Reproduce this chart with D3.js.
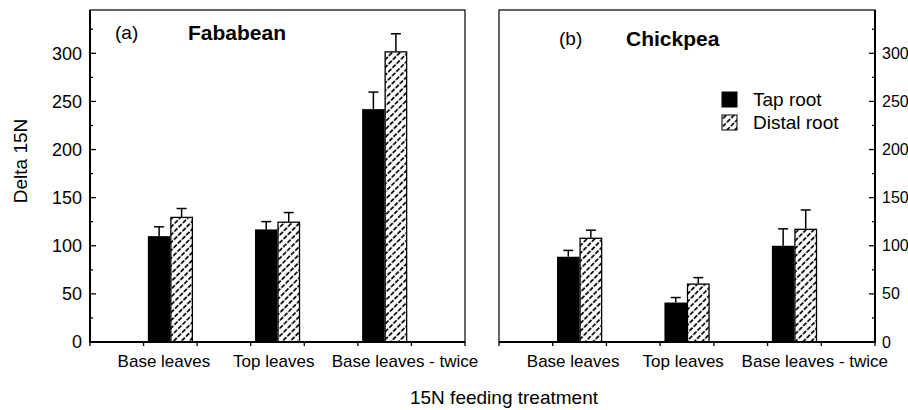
<!DOCTYPE html>
<html><head><meta charset="utf-8">
<script src="https://cdn.jsdelivr.net/npm/d3@7"></script>
<style>body{margin:0;background:#fff}svg{display:block;font-family:"Liberation Sans",Arial,sans-serif}</style>
</head><body>
<svg id="chart" width="908" height="410"></svg>
<script>
const categories = ["Base leaves", "Top leaves", "Base leaves - twice"];
const seriesNames = ["Tap root", "Distal root"];
const fababeanTap = [110, 117, 242];
const fababeanTapSE = [9.7, 8.1, 17.7];
const fababeanDistal = [130, 125, 302];
const fababeanDistalSE = [8.7, 9.5, 18.3];
const chickpeaTap = [88.6, 41, 100];
const chickpeaTapSE = [6.6, 5.2, 17.6];
const chickpeaDistal = [108.3, 60.7, 117.6];
const chickpeaDistalSE = [7.9, 6.2, 19.6];
const yMajorTicks = [0, 50, 100, 150, 200, 250, 300];
const yMinorTicks = [25, 75, 125, 175, 225, 275, 325];

const svg = d3.select("#chart");
const defs = svg.append("defs");
const pat = defs.append("pattern").attr("id", "hatch").attr("patternUnits", "userSpaceOnUse")
  .attr("width", 5.5).attr("height", 6).attr("patternTransform", "rotate(45)");
pat.append("rect").attr("width", 5.5).attr("height", 6).attr("fill", "#fff");
pat.append("line").attr("x1", 1).attr("x2", 1).attr("y1", 0).attr("y2", 6)
  .attr("stroke", "#000").attr("stroke-width", 1.7).attr("stroke-dasharray", "4.6 1.4");

const plotTop = 10, plotBottom = 342;
const y = d3.scaleLinear().domain([0, 345]).range([plotBottom, plotTop]);
const catPos = [1.5, 3.5, 5.5];
const labelPos = [1.38, 3.43, 5.88];
const barW = 0.42;

const panels = [
  {x0: 90, x1: 465, tap: fababeanTap, tapSE: fababeanTapSE, dis: fababeanDistal, disSE: fababeanDistalSE,
   tag: "(a)", tagX: 115, tagY: 39, name: "Fababean", nameX: 188, nameY: 40, axisSide: "left"},
  {x0: 499, x1: 875, tap: chickpeaTap, tapSE: chickpeaTapSE, dis: chickpeaDistal, disSE: chickpeaDistalSE,
   tag: "(b)", tagX: 559, tagY: 45, name: "Chickpea", nameX: 626, nameY: 46, axisSide: "right"}
];

panels.forEach(p => {
  const x = d3.scaleLinear().domain([0, 7]).range([p.x0, p.x1]);
  const g = svg.append("g");
  g.append("rect").attr("x", p.x0).attr("y", plotTop).attr("width", p.x1 - p.x0).attr("height", plotBottom - plotTop)
    .attr("fill", "none").attr("stroke", "#000").attr("stroke-width", 1.2);
  const rows = categories.map((c, i) => ({c, i, tap: p.tap[i], tapSE: p.tapSE[i], dis: p.dis[i], disSE: p.disSE[i]}));
  const eb = [];
  rows.forEach(r => {
    eb.push({xc: catPos[r.i] - barW / 2, v: r.tap, se: r.tapSE});
    eb.push({xc: catPos[r.i] + barW / 2, v: r.dis, se: r.disSE});
  });
  g.selectAll(".ev").data(eb).join("line").attr("x1", d => x(d.xc)).attr("x2", d => x(d.xc))
    .attr("y1", d => y(d.v)).attr("y2", d => y(d.v + d.se)).attr("stroke", "#000").attr("stroke-width", 1.5);
  g.selectAll(".ec").data(eb).join("line").attr("x1", d => x(d.xc) - 5).attr("x2", d => x(d.xc) + 5)
    .attr("y1", d => y(d.v + d.se)).attr("y2", d => y(d.v + d.se)).attr("stroke", "#000").attr("stroke-width", 1.5);
  g.selectAll(".bt").data(rows).join("rect")
    .attr("x", d => x(catPos[d.i] - barW)).attr("width", d => x(barW) - x(0))
    .attr("y", d => y(d.tap)).attr("height", d => y(0) - y(d.tap)).attr("fill", "#000");
  g.selectAll(".bd").data(rows).join("rect")
    .attr("x", d => x(catPos[d.i]) + 0.5).attr("width", d => x(barW) - x(0) - 1)
    .attr("y", d => y(d.dis) + 0.5).attr("height", d => y(0) - y(d.dis) - 0.5)
    .attr("fill", "url(#hatch)").attr("stroke", "#000").attr("stroke-width", 1.3);
  g.append("line").attr("x1", p.x0).attr("x2", p.x1).attr("y1", plotBottom).attr("y2", plotBottom)
    .attr("stroke", "#000").attr("stroke-width", 2);
  g.selectAll(".xt").data(d3.range(0, 8)).join("line").attr("x1", d => x(d)).attr("x2", d => x(d))
    .attr("y1", plotBottom).attr("y2", plotBottom + 4).attr("stroke", "#000").attr("stroke-width", 1.3);
  g.selectAll(".xl").data(categories).join("text").attr("x", (d, i) => x(labelPos[i])).attr("y", 367)
    .attr("text-anchor", "middle").attr("font-size", 17).text(d => d);
  const ax = p.axisSide === "left" ? p.x0 : p.x1;
  const dir = p.axisSide === "left" ? 1 : -1;
  g.append("line").attr("x1", ax).attr("x2", ax).attr("y1", plotTop).attr("y2", plotBottom + 1)
    .attr("stroke", "#000").attr("stroke-width", 2);
  g.selectAll(".ymaj").data(yMajorTicks).join("line").attr("x1", ax).attr("x2", ax + dir * 6)
    .attr("y1", d => y(d)).attr("y2", d => y(d)).attr("stroke", "#000").attr("stroke-width", 1.3);
  g.selectAll(".ymin").data(yMinorTicks).join("line").attr("x1", ax).attr("x2", ax + dir * 3)
    .attr("y1", d => y(d)).attr("y2", d => y(d)).attr("stroke", "#000").attr("stroke-width", 1.3);
  g.selectAll(".yl").data(yMajorTicks).join("text")
    .attr("x", p.axisSide === "left" ? ax - 8 : ax + 7).attr("y", d => y(d)).attr("dy", "0.35em")
    .attr("text-anchor", p.axisSide === "left" ? "end" : "start").attr("font-size", p.axisSide === "left" ? 18 : 16)
    .text(d => d);
  g.append("text").attr("x", p.tagX).attr("y", p.tagY).attr("font-size", 19).text(p.tag);
  g.append("text").attr("x", p.nameX).attr("y", p.nameY).attr("font-size", 21).attr("font-weight", "bold").text(p.name);
});

const legend = svg.append("g");
const legendFills = ["#000", "url(#hatch)"];
seriesNames.forEach((s, i) => {
  legend.append("rect").attr("x", 722).attr("y", 92 + i * 23).attr("width", 15).attr("height", 15)
    .attr("fill", legendFills[i]).attr("stroke", "#000").attr("stroke-width", 1);
  legend.append("text").attr("x", 753).attr("y", 106 + i * 23).attr("font-size", 19).text(s);
});

svg.append("text").attr("transform", "translate(27,161) rotate(-90)").attr("text-anchor", "middle")
  .attr("font-size", 19).text("Delta 15N");
svg.append("text").attr("x", 504).attr("y", 404).attr("text-anchor", "middle").attr("font-size", 19)
  .text("15N feeding treatment");
</script>
</body></html>
